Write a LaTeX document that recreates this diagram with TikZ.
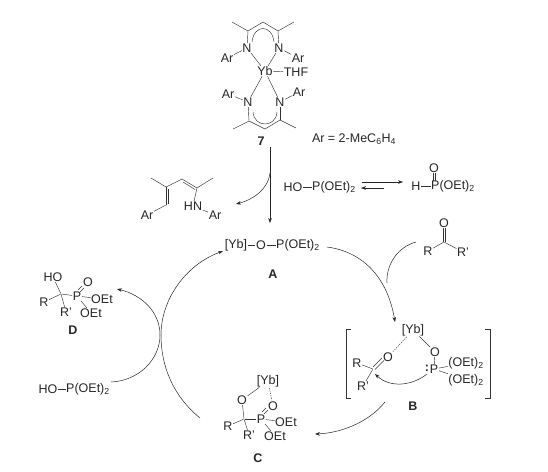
\documentclass[tikz,border=0pt]{standalone}
\usepackage{fontspec}
\usepackage{tikz}
\usetikzlibrary{arrows.meta}
\setmainfont{Liberation Sans}
\tikzset{
  atom/.style={inner sep=0pt,text=black!85,font=\fontsize{12.5}{12.5}\selectfont},
  tag/.style={inner sep=0pt,text=black!85,font=\fontsize{12.5}{12.5}\selectfont\bfseries},
  bond/.style={line width=0.45pt,black!80,shorten >=0.5pt,shorten <=0.5pt},
  bare/.style={line width=0.45pt,black!80},
  weak/.style={line width=0.5pt,black!70,dash pattern=on 1.3pt off 1.1pt,shorten >=1pt,shorten <=1pt},
  flow/.style={line width=0.5pt,black!85,-{Stealth[length=5pt,width=3.6pt]}},
  plainflow/.style={line width=0.5pt,black!85}
}
\newcommand{\Et}{(OEt)\textsubscript{2}}
\begin{document}
\begin{tikzpicture}[x=1pt,y=-1pt]
\useasboundingbox (0,0) rectangle (548,471);
% catalyst 7
\node[atom] (na) at (247,48) {N};
\node[atom] (nb) at (279,48) {N};
\node[atom] (ara) at (227,58) {Ar};
\node[atom] (arb) at (298,58) {Ar};
\node[atom] (yb) at (265,71) {Yb};
\node[atom] (thf) at (296,72) {THF};
\node[atom] (arc) at (228,94) {Ar};
\node[atom] (ard) at (299,92) {Ar};
\node[atom] (nc) at (248,102) {N};
\node[atom] (nd) at (280,102) {N};
\node[tag] (seven) at (261,141) {7};
\node[atom] (arnote) at (354,139) {Ar = 2-MeC\textsubscript{6}H\textsubscript{4}};
\coordinate (ma) at (232,22);
\coordinate (ca) at (248,31);
\coordinate (cb) at (263,22);
\coordinate (cc) at (278,31);
\coordinate (mb) at (294,22);
\coordinate (me) at (233,129);
\coordinate (cd) at (249,121);
\coordinate (ce) at (265,129);
\coordinate (cf) at (280,120);
\coordinate (mf) at (296,128);
\draw[bare] (ma)--(ca)--(cb)--(cc)--(mb);
\draw[bare] (me)--(cd)--(ce)--(cf)--(mf);
\draw[bond] (ca)--(na);
\draw[bond] (cc)--(nb);
\draw[bond] (cd)--(nc);
\draw[bond] (cf)--(nd);
\foreach \a/\b in {na/ara,nb/arb,nc/arc,nd/ard,na/yb,nb/yb,nc/yb,nd/yb,yb/thf}{
  \draw[bond] (\a)--(\b);
}
\draw[bare] (252,42) .. controls (254,24) and (272,24) .. (274,42);
\draw[bare] (253,112) .. controls (254,128) and (276,128) .. (277,112);
% arrow down to A and the lost ligand
\coordinate (downa) at (270,147);
\coordinate (downb) at (270,223);
\coordinate (losta) at (270,173);
\coordinate (lostb) at (236,204);
\draw[flow] (downa)--(downb);
\draw[flow] (losta) .. controls (268,190) and (252,200) .. (lostb);
% ligand
\node[atom] (hn) at (193,206) {HN};
\node[atom] (are) at (147,215) {Ar};
\node[atom] (arf) at (215,215) {Ar};
\coordinate (mc) at (151,178);
\coordinate (cg) at (166,187);
\coordinate (ch) at (166,205);
\coordinate (ci) at (182,179);
\coordinate (cj) at (197,188);
\coordinate (md) at (213,178);
\draw[bare] (mc)--(cg)--(ci)--(cj)--(md);
\draw[bare] (cg)--(ch);
\draw[bare] (168.5,189)--(168.5,204);
\draw[bare] (183,182)--(195,189.5);
\draw[bond] (ch)--(are);
\draw[bond] (cj)--(hn);
\draw[bond] (hn)--(arf);
% phosphite tautomers
\node[atom] (hoa) at (293,187) {HO};
\node[atom,anchor=west] (pa) at (312,187) {P\Et};
\node[atom] (hb) at (416,186) {H};
\node[atom,anchor=west] (pb) at (431,186) {P\Et};
\node[atom] (ob) at (434,168) {O};
\draw[bond] (hoa)--(pa);
\draw[bond] (hb)--(pb);
\draw[bare] (433,173)--(433,181);
\draw[bare] (435.5,173)--(435.5,181);
\coordinate (eqa) at (362,182);
\coordinate (eqb) at (403,182);
\coordinate (eqc) at (384,188);
\coordinate (eqd) at (361,188);
\draw[flow] (eqa)--(eqb);
\draw[flow] (eqc)--(eqd);
% A
\node[atom] (yba) at (236,245) {[Yb]};
\node[atom] (oa) at (261,245) {O};
\node[atom,anchor=west] (pc) at (276,245) {P\Et};
\node[tag] (laba) at (273,274) {A};
\draw[bond] (yba)--(oa);
\draw[bond] (oa)--(pc);
% ketone
\node[atom] (oc) at (444,223) {O};
\node[atom] (ra) at (428,251) {R};
\node[atom] (rb) at (463,252) {R'};
\coordinate (ck) at (444,242);
\draw[bare] (442.8,228)--(442.8,242);
\draw[bare] (445.2,228)--(445.2,242);
\draw[bond] (ck)--(ra);
\draw[bond] (ck)--(rb);
% cycle arcs
\coordinate (ta) at (327,247);
\coordinate (tb) at (395,322);
\coordinate (tc) at (416,242);
\coordinate (td) at (387,283);
\draw[flow] (ta) .. controls (365,252) and (388,280) .. (tb);
\draw[plainflow] (tc) .. controls (398,247) and (386,264) .. (td);
% B
\node[atom] (ybb) at (413,330) {[Yb]};
\node[atom] (od) at (435,352) {O};
\node[atom] (pd) at (434,369) {P};
\node[atom] (lp) at (427,368) {\textbf{:}};
\node[atom] (ea) at (466,363) {\Et};
\node[atom] (eb) at (466,380) {\Et};
\node[atom] (oe) at (388,357) {O};
\node[atom] (rc) at (357,363) {R};
\node[atom] (rd) at (363,386) {R'};
\node[tag] (labb) at (413,406) {B};
\coordinate (cl) at (373,369);
\draw[bond] (ybb)--(od);
\draw[bond] (od)--(pd);
\draw[bond] (pd)--(ea);
\draw[bond] (pd)--(eb);
\draw[weak] (ybb)--(oe);
\draw[bare] (373,367)--(382,358);
\draw[bare] (375,369.5)--(384,360.5);
\draw[bond] (cl)--(rc);
\draw[bond] (cl)--(rd);
\draw[bare] (351,329)--(346,329)--(346,398)--(351,398);
\draw[bare] (485,329)--(490,329)--(490,398)--(485,398);
\coordinate (pusha) at (427,374);
\coordinate (pushb) at (375,374);
\draw[flow] (pusha) .. controls (412,386) and (390,388) .. (pushb);
\coordinate (te) at (385,402);
\coordinate (tf) at (315,434);
\draw[flow] (te) .. controls (368,423) and (340,433) .. (tf);
% C
\node[atom] (ybc) at (268,381) {[Yb]};
\node[atom] (of) at (242,400) {O};
\node[atom] (og) at (273,406) {O};
\node[atom] (pe) at (261,419) {P};
\node[atom] (rf) at (228,426) {R};
\node[atom] (rg) at (249,435) {R'};
\node[atom] (ec) at (286,422) {OEt};
\node[atom] (ed) at (275,436) {OEt};
\node[tag] (labc) at (258,458) {C};
\coordinate (cm) at (244,419);
\draw[bond] (ybc)--(of);
\draw[weak] (ybc)--(og);
\draw[bond] (of)--(cm);
\draw[bond] (cm)--(pe);
\draw[bond] (cm)--(rf);
\draw[bond] (cm)--(rg);
\draw[bond] (pe)--(ec);
\draw[bond] (pe)--(ed);
\draw[bare] (262,412)--(266,408);
\draw[bare] (264,414)--(268,410);
% D
\node[atom] (hod) at (53,277) {HO};
\node[atom] (oh) at (88,282) {O};
\node[atom] (pf) at (77,296) {P};
\node[atom] (ee) at (102,299) {OEt};
\node[atom] (rh) at (44,302) {R};
\node[atom] (ri) at (66,312) {R'};
\node[atom] (ef) at (91,313) {OEt};
\node[tag] (labd) at (73,330) {D};
\coordinate (cn) at (61,294);
\draw[bond] (cn)--(hod);
\draw[bond] (cn)--(pf);
\draw[bond] (cn)--(rh);
\draw[bond] (cn)--(ri);
\draw[bond] (pf)--(ee);
\draw[bond] (pf)--(ef);
\draw[bare] (78,290)--(82,286);
\draw[bare] (80,292)--(84,288);
% second phosphite and the big arcs
\node[atom] (hoe) at (48,389) {HO};
\node[atom,anchor=west] (pg) at (66,389) {P\Et};
\draw[bond] (hoe)--(pg);
\coordinate (tg) at (111,382);
\coordinate (th) at (160,335);
\coordinate (ti) at (117,289);
\coordinate (tj) at (200,418);
\coordinate (tk) at (223,251);
\draw[plainflow] (tg) .. controls (138,381) and (160,360) .. (th);
\draw[flow] (th) .. controls (160,312) and (142,295) .. (ti);
\draw[flow] (tj) .. controls (172,395) and (161,365) .. (161,335) .. controls (161,300) and (185,265) .. (tk);
\end{tikzpicture}
\end{document}
